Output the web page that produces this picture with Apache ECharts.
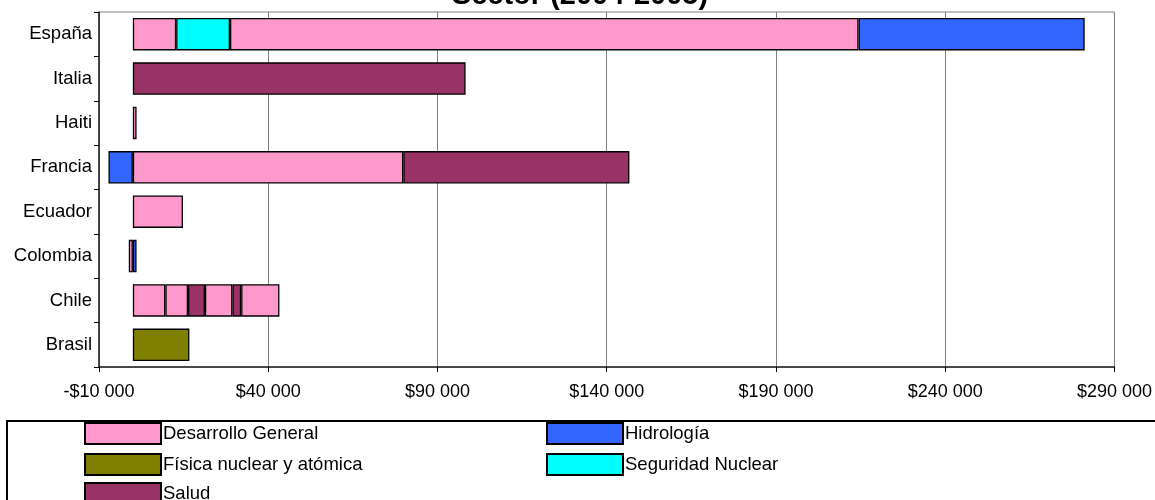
<!DOCTYPE html>
<html>
<head>
<meta charset="utf-8">
<script src="https://cdn.jsdelivr.net/npm/echarts@6/dist/echarts.min.js"></script>
<style>
html,body{margin:0;padding:0;background:#fff;}
#chart{width:1155px;height:500px;}
</style>
</head>
<body>
<div id="chart"></div>
<script>
// ---- data ----
const categories = ['España', 'Italia', 'Haiti', 'Francia', 'Ecuador', 'Colombia', 'Chile', 'Brasil'];
const sectors = ['Desarrollo General', 'Hidrología', 'Física nuclear y atómica', 'Seguridad Nuclear', 'Salud'];
// segments of each country's bar, in stacking order: [sector, value in $]
const espana   = [['Desarrollo General', 12800], ['Seguridad Nuclear', 15900], ['Desarrollo General', 185700], ['Hidrología', 66800]];
const italia   = [['Salud', 98300]];
const haiti    = [['Desarrollo General', 1100]];
const francia  = [['Hidrología', -7200], ['Desarrollo General', 79900], ['Salud', 66800]];
const ecuador  = [['Desarrollo General', 14800]];
const colombia = [['Desarrollo General', -1200], ['Hidrología', 1100]];
const chile    = [['Desarrollo General', 9600], ['Desarrollo General', 6700], ['Salud', 5000], ['Desarrollo General', 8100], ['Salud', 2600], ['Desarrollo General', 11300]];
const brasil   = [['Física nuclear y atómica', 16700]];
const segmentsByCountry = [espana, italia, haiti, francia, ecuador, colombia, chile, brasil];
const titleText = 'Sector (2004-2005)';
const xMin = -10000, xMax = 290000, xInterval = 50000;

// ---- styles ----
const sectorColors = {
  'Desarrollo General': '#FF99CC',
  'Hidrología': '#3366FF',
  'Física nuclear y atómica': '#808000',
  'Seguridad Nuclear': '#00FFFF',
  'Salud': '#993366'
};
const FONT = 'Liberation Sans, Arial, sans-serif';

// build series: one per (layer, sector)
const series = [];
const maxLayers = Math.max(...segmentsByCountry.map(s => s.length));
for (let j = 0; j < maxLayers; j++) {
  sectors.forEach(sec => {
    const data = segmentsByCountry.map(segs => (segs[j] && segs[j][0] === sec) ? segs[j][1] : '-');
    if (data.some(v => v !== '-')) {
      series.push({
        name: sec,
        type: 'bar',
        stack: 'total',
        barWidth: '73%',
        data: data,
        itemStyle: { color: sectorColors[sec], borderColor: '#000', borderWidth: 1.3 },
        emphasis: { disabled: true },
        animation: false
      });
    }
  });
}

function money(v) {
  const a = Math.abs(v);
  const s = String(a).replace(/\B(?=(\d{3})+(?!\d))/g, ' ');
  return (v < 0 ? '-$' : '$') + s;
}

const chart = echarts.init(document.getElementById('chart'));
function legendAt(name, left, top) {
  return {
    orient: 'vertical',
    left: left,
    top: top,
    padding: 0,
    itemWidth: 76,
    itemHeight: 21,
    selectedMode: false,
    icon: 'rect',
    data: [name],
    itemStyle: { borderColor: '#000', borderWidth: 2 },
    textStyle: { fontFamily: FONT, fontSize: 18.5, color: '#000', padding: [0, 0, 0, -3] }
  };
}
chart.setOption({
  backgroundColor: '#fff',
  animation: false,
  textStyle: { fontFamily: FONT },
  grid: { left: 99, right: 39, top: 12, bottom: 133, show: true, borderColor: '#808080', borderWidth: 1, containLabel: false },
  xAxis: {
    type: 'value',
    min: xMin, max: xMax, interval: xInterval,
    axisLine: { show: true, onZero: false, lineStyle: { color: '#222', width: 1.5 } },
    axisTick: { show: true, length: 5, lineStyle: { color: '#000' } },
    splitLine: { show: true, lineStyle: { color: '#808080', width: 1 } },
    axisLabel: { color: '#000', fontSize: 18, fontFamily: FONT, margin: 16, formatter: money }
  },
  yAxis: [{
    type: 'category',
    data: categories,
    inverse: true,
    axisLine: { show: false },
    axisTick: { show: false },
    axisLabel: { color: '#000', fontSize: 18.5, fontFamily: FONT, margin: 7 }
  }, {
    type: 'category',
    data: categories,
    inverse: true,
    position: 'left',
    axisLine: { show: true, onZero: true, lineStyle: { color: '#222', width: 1.5 } },
    axisTick: { show: true, length: 5, inside: false, alignWithLabel: false, lineStyle: { color: '#000' } },
    axisLabel: { show: false },
    splitLine: { show: false }
  }],
  legend: [
    legendAt('Desarrollo General', 84, 422),
    legendAt('Física nuclear y atómica', 84, 453),
    legendAt('Salud', 84, 482),
    legendAt('Hidrología', 546, 422),
    legendAt('Seguridad Nuclear', 546, 453)
  ],
  graphic: [
    { type: 'rect', silent: true, shape: { x: 7, y: 421, width: 1200, height: 120 }, style: { fill: 'none', stroke: '#000', lineWidth: 2 } },
    { type: 'text', silent: true, x: 580, y: -4, style: { text: titleText, font: 'bold 29px ' + FONT, fill: '#000', align: 'center', verticalAlign: 'middle' } }
  ],
  series: series
});
</script>
</body>
</html>
